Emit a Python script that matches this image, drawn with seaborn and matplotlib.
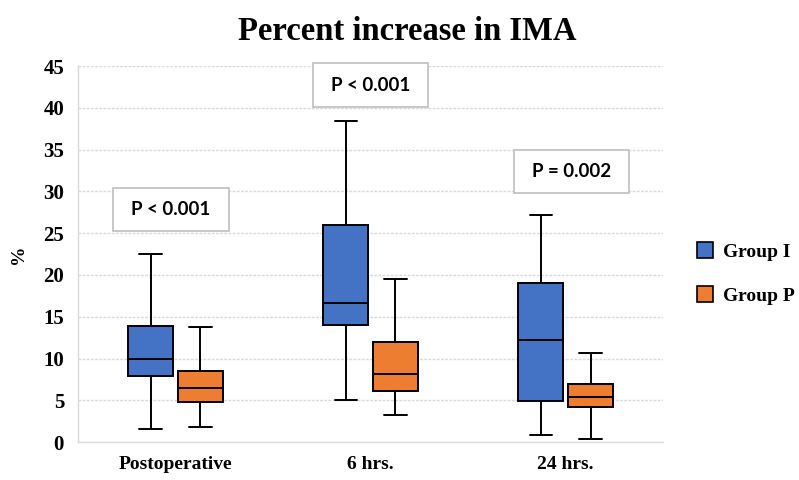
import pandas as pd
import matplotlib.pyplot as plt
import seaborn as sns
import numpy as np
from matplotlib.patches import Rectangle, Patch

# 数据：每个箱体的 [最小值, Q1, 中位数, Q3, 最大值]
times = ["Postoperative", "6 hrs.", "24 hrs."]
groups = ["Group I", "Group P"]
group_i_stats = [
    [1.6, 7.9, 9.9, 13.9, 22.5],
    [5.0, 14.0, 16.7, 26.0, 38.4],
    [0.9, 4.9, 12.2, 19.0, 27.2],
]
group_p_stats = [
    [1.8, 4.8, 6.5, 8.5, 13.8],
    [3.3, 6.1, 8.2, 12.0, 19.5],
    [0.4, 4.2, 5.4, 6.9, 10.7],
]
p_labels = ["P < 0.001", "P < 0.001", "P = 0.002"]
palette = {"Group I": "#4472C4", "Group P": "#ED7D31"}

rows = []
for t, si, sp in zip(times, group_i_stats, group_p_stats):
    for v in si:
        rows.append({"time": t, "group": "Group I", "value": v})
    for v in sp:
        rows.append({"time": t, "group": "Group P", "value": v})
df = pd.DataFrame(rows)

sns.set_style("white")
plt.rcParams['font.family'] = ['Liberation Serif', 'DejaVu Serif']
plt.rcParams['text.color'] = 'black'
plt.rcParams['xtick.color'] = 'black'
plt.rcParams['ytick.color'] = 'black'
plt.rcParams['axes.labelcolor'] = 'black'

fig = plt.figure(figsize=(7.99, 4.8), dpi=100)
ax = fig.add_axes([0.0976, 0.079, 0.7324, 0.7835])

sns.boxplot(data=df, x="time", y="value", hue="group", order=times, hue_order=groups,
            palette=palette, saturation=1, width=0.51, gap=0.1, whis=np.inf, ax=ax,
            linecolor="black", linewidth=1.4, legend=False)

ax.set_xlim(-0.5, 2.5)
ax.set_ylim(0, 45)
ax.set_yticks(range(0, 46, 5))
ax.yaxis.grid(True, color="#d9d9d9", linestyle=(0, (2, 1)), linewidth=1)
ax.set_axisbelow(True)
for s in ["top", "right"]:
    ax.spines[s].set_visible(False)
for s in ["left", "bottom"]:
    ax.spines[s].set_color("#d9d9d9")
    ax.spines[s].set_linewidth(1)
ax.tick_params(axis="y", length=0, labelsize=15, pad=10)
ax.tick_params(axis="x", length=0, labelsize=14, pad=10)
for lab in ax.get_xticklabels() + ax.get_yticklabels():
    lab.set_fontweight("bold")

ax.set_xlabel("")
ax.set_ylabel("%", fontsize=14, fontweight="bold", labelpad=12)
fig.text(0.51, 0.935, "Percent increase in IMA", ha="center", va="center",
         fontsize=23.5, fontweight="bold")

# P 值标注框
p_boxes = [(-0.318, 25.2), (0.706, 40.1), (1.733, 29.8)]
for (x0, y0), lab in zip(p_boxes, p_labels):
    ax.add_patch(Rectangle((x0, y0), 0.59, 5.2, facecolor="white",
                           edgecolor="#bfbfbf", linewidth=1.2, clip_on=False, zorder=5))
    ax.text(x0 + 0.295, y0 + 2.6, lab, ha="center", va="center", fontsize=13.5,
            fontweight="bold", family=["Lato", "DejaVu Sans"], zorder=6)

handles = [Patch(facecolor=palette[g], edgecolor="black", linewidth=1.2) for g in groups]
leg = fig.legend(handles, groups, loc="center left", bbox_to_anchor=(0.872, 0.43),
                 frameon=False, prop={"weight": "bold", "size": 14},
                 handlelength=0.85, handleheight=0.85, labelspacing=1.3,
                 handletextpad=0.5, borderaxespad=0, borderpad=0)

fig.savefig("out.png", dpi=100)
